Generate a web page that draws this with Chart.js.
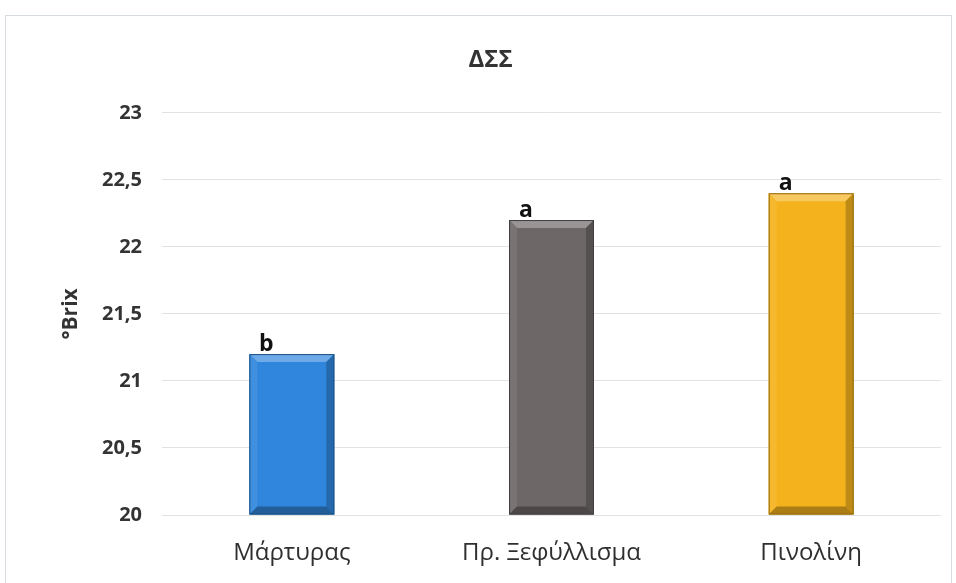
<!DOCTYPE html>
<html>
<head>
<meta charset="utf-8">
<script src="https://cdn.jsdelivr.net/npm/chart.js@4/dist/chart.umd.min.js"></script>
<style>
  html, body { margin: 0; padding: 0; background: #ffffff; }
  #wrap { position: absolute; left: 5px; top: 15px; width: 947px; height: 568px; border: 1px solid #d6dbe2; border-bottom: none; box-sizing: border-box; }
  #c { position: absolute; left: 0; top: 0; }
</style>
</head>
<body>
<div id="wrap"><canvas id="c" width="945" height="567"></canvas></div>
<script>
const categories = ['Μάρτυρας', 'Πρ. Ξεφύλλισμα', 'Πινολίνη'];
const brixValues = [21.2, 22.2, 22.4];
const groupLetters = ['b', 'a', 'a'];
const barColors = ['#2f86dc', '#6d6767', '#f4b21c'];
const yTicks = [20, 20.5, 21, 21.5, 22, 22.5, 23];

function shade(hex, amt) {
  const n = parseInt(hex.slice(1), 16);
  let r = (n >> 16) & 255, g = (n >> 8) & 255, b = n & 255;
  const f = v => Math.max(0, Math.min(255, Math.round(amt >= 0 ? v + (255 - v) * amt : v * (1 + amt))));
  return `rgb(${f(r)},${f(g)},${f(b)})`;
}

// Bevelled bar edges drawn over each bar element
const bevelPlugin = {
  id: 'bevel',
  afterDatasetsDraw(chart) {
    const ctx = chart.ctx;
    const meta = chart.getDatasetMeta(0);
    meta.data.forEach((bar, i) => {
      const c = barColors[i];
      const l = bar.x - bar.width / 2, r = bar.x + bar.width / 2;
      const t = bar.y, b = bar.base;
      const w = 8;
      const poly = (pts, col) => {
        ctx.beginPath();
        ctx.moveTo(pts[0][0], pts[0][1]);
        pts.slice(1).forEach(p => ctx.lineTo(p[0], p[1]));
        ctx.closePath();
        ctx.fillStyle = col;
        ctx.fill();
      };
      ctx.save();
      poly([[l, t], [r, t], [r - w, t + w], [l + w, t + w]], shade(c, 0.3));
      poly([[l, t], [l + w, t + w], [l + w, b - w], [l, b]], shade(c, 0.08));
      poly([[r, t], [r, b], [r - w, b - w], [r - w, t + w]], shade(c, -0.22));
      poly([[l, b], [l + w, b - w], [r - w, b - w], [r, b]], shade(c, -0.3));
      ctx.strokeStyle = shade(c, -0.4);
      ctx.lineWidth = 1;
      ctx.strokeRect(l + 0.5, t + 0.5, bar.width - 1, b - t - 1);
      ctx.restore();
    });
  }
};

// Significance letters above each bar
const letterPlugin = {
  id: 'letters',
  afterDatasetsDraw(chart) {
    const ctx = chart.ctx;
    const meta = chart.getDatasetMeta(0);
    ctx.save();
    ctx.font = 'bold 23px "Open Sans", sans-serif';
    ctx.fillStyle = '#111111';
    ctx.textAlign = 'center';
    ctx.textBaseline = 'bottom';
    meta.data.forEach((bar, i) => {
      ctx.fillText(groupLetters[i], bar.x - bar.width * 0.3, bar.y + 2);
    });
    ctx.restore();
  }
};

new Chart(document.getElementById('c'), {
  type: 'bar',
  data: {
    labels: categories,
    datasets: [{
      data: brixValues,
      base: 20,
      backgroundColor: barColors,
      borderWidth: 0,
      barPercentage: 0.654,
      categoryPercentage: 0.5
    }]
  },
  options: {
    responsive: false,
    animation: false,
    layout: { padding: { left: 34, right: 10, top: 0, bottom: 8 } },
    plugins: {
      legend: { display: false },
      tooltip: { enabled: false },
      title: {
        display: true,
        text: 'ΔΣΣ',
        color: '#333333',
        font: { family: '"Open Sans", sans-serif', size: 24, weight: 'bold' },
        padding: { top: 30, bottom: 38 }
      }
    },
    scales: {
      x: {
        grid: { display: false, drawTicks: false },
        border: { display: false },
        afterFit(axis) { axis.height = 60; },
        ticks: {
          color: '#2f2f2f',
          padding: 24,
          font: { family: '"Open Sans", sans-serif', size: 24 }
        }
      },
      y: {
        min: 20,
        max: 23,
        afterBuildTicks(axis) { axis.ticks = yTicks.map(v => ({ value: v })); },
        afterFit(axis) { axis.width = 122; },
        grid: { color: '#e2e2e2', drawTicks: false },
        border: { display: false },
        title: {
          display: true,
          text: '°Brix',
          color: '#333333',
          font: { family: '"Open Sans", sans-serif', size: 21, weight: 'bold' },
          padding: { top: 18, bottom: 4 }
        },
        ticks: {
          color: '#333333',
          padding: 20,
          font: { family: '"Open Sans", sans-serif', size: 20, weight: 'bold' },
          callback: v => String(v).replace('.', ',')
        }
      }
    }
  },
  plugins: [bevelPlugin, letterPlugin]
});
</script>
</body>
</html>
